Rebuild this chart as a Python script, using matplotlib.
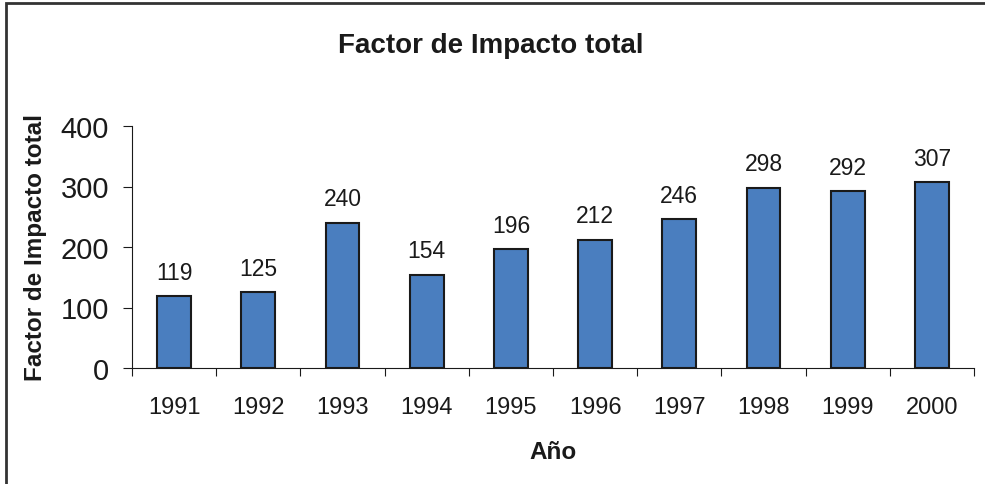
import matplotlib.pyplot as plt
from matplotlib.patches import Rectangle

plt.rcParams['font.family'] = ['Liberation Sans', 'DejaVu Sans']

anios = ['1991', '1992', '1993', '1994', '1995', '1996', '1997', '1998', '1999', '2000']
impacto = [119, 125, 240, 154, 196, 212, 246, 298, 292, 307]

fig = plt.figure(figsize=(9.85, 4.85), dpi=100)
ax = fig.add_axes([132 / 985, 1 - 369 / 485, (974 - 132) / 985, (369 - 127) / 485])

x = list(range(len(anios)))
ax.bar(x, impacto, width=0.4, color='#4a7ebf', edgecolor='#1a1a1a', linewidth=1.5, zorder=3)
for xi, v in zip(x, impacto):
    ax.annotate(str(v), (xi, v), xytext=(0, 9), textcoords='offset points',
                ha='center', va='bottom', fontsize=16.5, color='#1a1a1a')

ax.set_xlim(-0.5, len(anios) - 0.5)
ax.set_ylim(0, 400)
ax.set_yticks([0, 100, 200, 300, 400])
ax.tick_params(axis='y', labelsize=21, length=6.5, width=0.8, direction='out', pad=10, colors='#1a1a1a')

# ticks del eje x entre categorias, etiquetas centradas
ax.set_xticks([i - 0.5 for i in range(len(anios) + 1)])
ax.set_xticklabels([])
ax.set_xticks(x, minor=True)
ax.set_xticklabels(anios, minor=True)
ax.tick_params(axis='x', which='major', length=5.5, width=0.8, direction='out', colors='#1a1a1a')
ax.tick_params(axis='x', which='minor', length=0, labelsize=17, pad=20, colors='#1a1a1a')

for s in ['top', 'right']:
    ax.spines[s].set_visible(False)
for s in ['left', 'bottom']:
    ax.spines[s].set_linewidth(0.8)
    ax.spines[s].set_color('#1a1a1a')

ax.set_xlabel('Año', fontsize=17.5, fontweight='bold', labelpad=16, color='#1a1a1a')
ax.set_ylabel('Factor de Impacto total', fontsize=17.5, fontweight='bold', labelpad=10, color='#1a1a1a')

fig.text(491 / 985, 1 - 46 / 485, 'Factor de Impacto total', ha='center', va='center',
         fontsize=20, fontweight='bold', color='#1a1a1a')

# marco exterior (recortado a la derecha y abajo)
fig.patches.append(Rectangle((6 / 985, -0.1), 1.2, 1.1 - 4 / 485, transform=fig.transFigure,
                             fill=False, edgecolor='#333333', linewidth=2))

fig.savefig('out.png', dpi=100)
